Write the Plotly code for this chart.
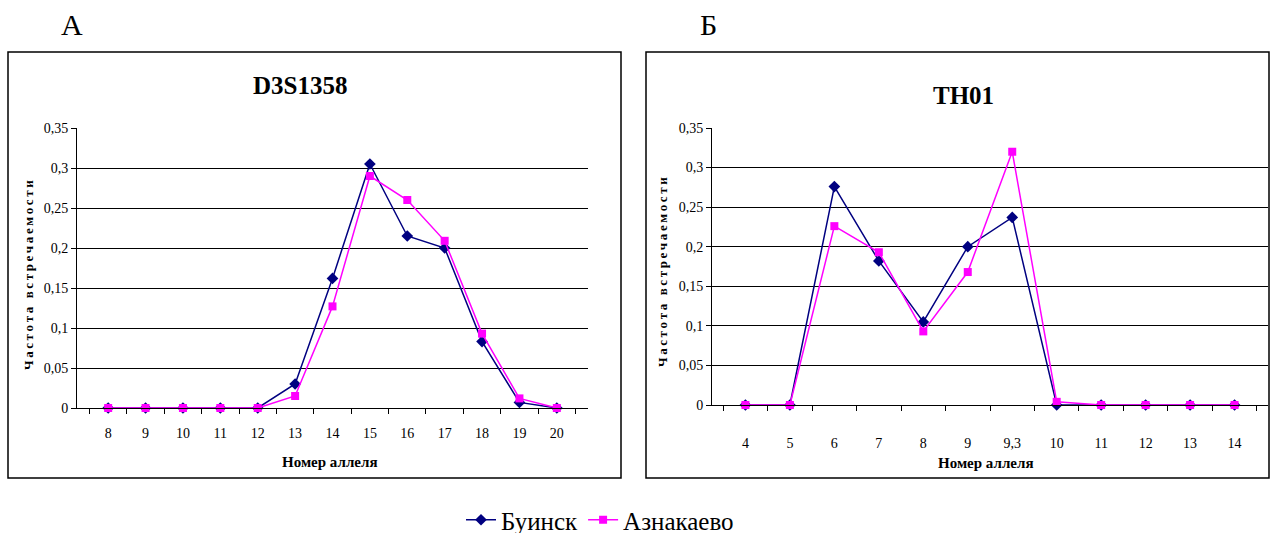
import plotly.graph_objects as go

W, H = 1272, 533

d3_alleles = ["8", "9", "10", "11", "12", "13", "14", "15", "16", "17", "18", "19", "20"]
d3_buinsk = [0, 0, 0, 0, 0, 0.03, 0.162, 0.305, 0.215, 0.2, 0.083, 0.007, 0]
d3_aznak = [0, 0, 0, 0, 0, 0.015, 0.127, 0.29, 0.26, 0.209, 0.093, 0.012, 0]

th_alleles = ["4", "5", "6", "7", "8", "9", "9,3", "10", "11", "12", "13", "14"]
th_buinsk = [0, 0, 0.276, 0.182, 0.105, 0.2, 0.237, 0, 0, 0, 0, 0]
th_aznak = [0, 0, 0.226, 0.193, 0.093, 0.168, 0.32, 0.004, 0, 0, 0, 0]

y_ticks = [0, 0.05, 0.1, 0.15, 0.2, 0.25, 0.3, 0.35]
y_ticktext = ["0", "0,05", "0,1", "0,15", "0,2", "0,25", "0,3", "0,35"]

series_names = ["Буинск", "Азнакаево"]
NAVY = "#000080"
MAG = "#FF00FF"
FONT = "Liberation Serif"

def px(x):
    return x / W

def py(y):
    return 1 - y / H

fig = go.Figure()

for xa, ya, cats, b, a, show in [("x", "y", d3_alleles, d3_buinsk, d3_aznak, True),
                                  ("x2", "y2", th_alleles, th_buinsk, th_aznak, False)]:
    fig.add_trace(go.Scatter(x=cats, y=b, name=series_names[0], mode="lines+markers",
                             line=dict(color=NAVY, width=1.5),
                             marker=dict(symbol="diamond", size=9, color=NAVY),
                             xaxis=xa, yaxis=ya, showlegend=show, cliponaxis=False))
    fig.add_trace(go.Scatter(x=cats, y=a, name=series_names[1], mode="lines+markers",
                             line=dict(color=MAG, width=1.5),
                             marker=dict(symbol="square", size=8, color=MAG),
                             xaxis=xa, yaxis=ya, showlegend=show, cliponaxis=False))

xaxis_common = dict(type="category", showgrid=False, showline=True, linecolor="black",
                    linewidth=1, ticks="outside", tickson="boundaries", ticklen=5,
                    tickcolor="black", tickfont=dict(family=FONT, size=14, color="black"),
                    zeroline=False, fixedrange=True, automargin=False)
yaxis_common = dict(range=[0, 0.35], tickvals=y_ticks, ticktext=y_ticktext,
                    showgrid=True, gridcolor="black", gridwidth=1, showline=True,
                    linecolor="black", linewidth=1, ticks="outside", ticklen=5,
                    tickcolor="black", tickfont=dict(family=FONT, size=14, color="black"),
                    zeroline=False, fixedrange=True, automargin=False)

fig.update_layout(
    width=W, height=H,
    margin=dict(l=0, r=0, t=0, b=0, autoexpand=False),
    paper_bgcolor="white", plot_bgcolor="white",
    font=dict(family=FONT, color="black"),
    xaxis=dict(domain=[px(77), px(588)], anchor="y", ticklabelstandoff=12, **xaxis_common),
    yaxis=dict(domain=[py(408), py(128)], anchor="x", **yaxis_common),
    xaxis2=dict(domain=[px(712), px(1268)], anchor="y2", ticklabelstandoff=25, **xaxis_common),
    yaxis2=dict(domain=[py(405), py(128)], anchor="x2", **yaxis_common),
    legend=dict(orientation="h", x=px(600), xanchor="center", y=py(520), yanchor="middle",
                font=dict(family=FONT, size=25, color="black"), bgcolor="rgba(0,0,0,0)",
                tracegroupgap=0),
)

# chart boxes
for x0, x1 in [(8, 621), (646, 1269)]:
    fig.add_shape(type="rect", xref="paper", yref="paper", x0=px(x0), x1=px(x1),
                  y0=py(478), y1=py(52), line=dict(color="black", width=1.5))

ann = [
    dict(text="D3S1358", x=px(300), y=py(85), size=25, weight=700),
    dict(text="TH01", x=px(963), y=py(96), size=25, weight=700),
    dict(text="Номер аллеля", x=px(330), y=py(462), size=15, weight=700),
    dict(text="Номер аллеля", x=px(986), y=py(463), size=15, weight=700),
    dict(text="А", x=px(72), y=py(25), size=30, weight=400),
    dict(text="Б", x=px(708), y=py(25), size=30, weight=400),
]
for a in ann:
    fig.add_annotation(text=a["text"], x=a["x"], y=a["y"], xref="paper", yref="paper",
                       showarrow=False, xanchor="center", yanchor="middle",
                       font=dict(family=FONT, size=a["size"], color="black", weight=a["weight"]))

ytitle = "\u2009".join("Частота") + "\u2009 \u2009" + "\u2009".join("встречаемости")
for xx, yy in [(28, 275), (662, 272)]:
    fig.add_annotation(text=ytitle, x=px(xx), y=py(yy),
                       xref="paper", yref="paper", showarrow=False, textangle=-90,
                       xanchor="center", yanchor="middle",
                       font=dict(family=FONT, size=13, color="black", weight=700))

fig.write_html("out.html", config={"displayModeBar": False},
               post_script="document.body.style.margin='0';document.body.style.overflow='hidden';")
